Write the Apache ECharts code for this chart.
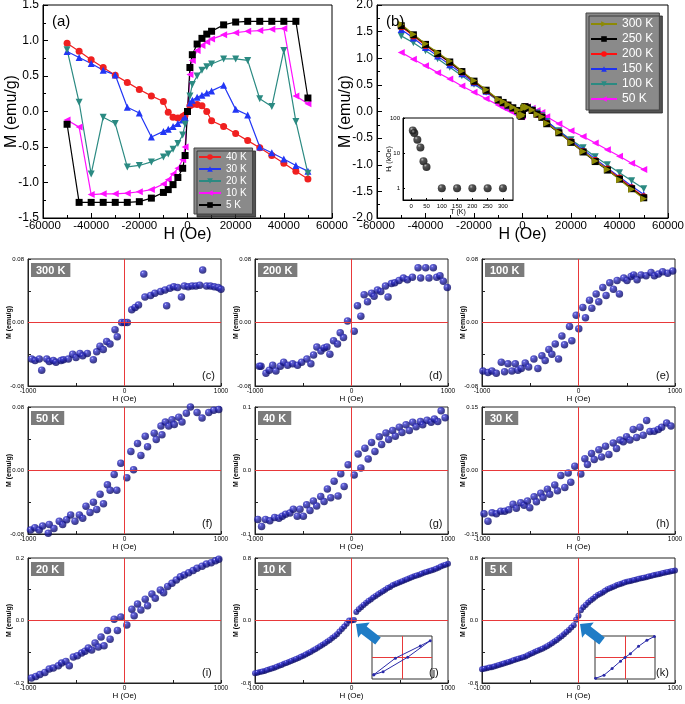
<!DOCTYPE html>
<html><head><meta charset="utf-8">
<script src="https://cdn.jsdelivr.net/npm/echarts@6/dist/echarts.min.js"></script>
<style>html,body{margin:0;padding:0;background:#fff}#c{width:685px;height:704px}</style>
</head><body><div id="c"></div>
<script>
const FONT = '"Liberation Sans", Arial, sans-serif';

// ---------- Panel (a) ----------
const aH = [-50000,-45000,-40000,-35000,-30000,-25000,-20000,-15000,-10000,-8000,-6000,-4000,-2000,-1000,0,1000,2000,4000,6000,8000,10000,15000,20000,25000,30000,35000,40000,45000,50000];
const a40K = [0.96,0.85,0.73,0.62,0.51,0.41,0.31,0.22,0.14,-0.01,-0.08,-0.09,-0.07,-0.05,0.0,0.08,0.10,0.10,0.08,0.0,-0.13,-0.21,-0.31,-0.41,-0.51,-0.62,-0.73,-0.84,-0.95];
const a30K = [0.845,0.76,0.675,0.58,0.515,0.06,-0.02,-0.36,-0.28,-0.25,-0.21,-0.17,-0.12,-0.08,0.0,0.12,0.16,0.2,0.23,0.26,0.29,0.37,0.03,-0.05,-0.5,-0.58,-0.67,-0.76,-0.84];
const a20K = [0.87,0.13,-0.88,-0.08,-0.17,-0.78,-0.76,-0.71,-0.64,-0.6,-0.53,-0.45,-0.33,-0.18,0.0,0.22,0.38,0.5,0.58,0.63,0.67,0.74,0.74,0.72,0.18,0.07,0.86,-0.14,-0.87];
const a10K = [-0.12,-0.22,-1.17,-1.16,-1.16,-1.15,-1.13,-1.10,-1.02,-0.96,-0.88,-0.80,-0.68,-0.50,0.0,0.52,0.72,0.86,0.93,0.98,1.02,1.08,1.11,1.13,1.14,1.16,1.17,0.22,0.11];
const a5K = [-0.18,-1.28,-1.28,-1.28,-1.28,-1.28,-1.27,-1.22,-1.14,-1.10,-1.03,-0.93,-0.80,-0.62,0.0,0.62,0.80,0.95,1.03,1.09,1.13,1.22,1.26,1.27,1.27,1.27,1.27,1.27,0.19];

// ---------- Panel (b) ----------
const bH = [-50000,-45000,-40000,-35000,-30000,-25000,-20000,-15000,-10000,-8000,-6000,-4000,-2000,-1000,-500,0,500,1000,2000,4000,6000,8000,10000,15000,20000,25000,30000,35000,40000,45000,50000];
const b300K = [1.64,1.45,1.27,1.11,0.95,0.76,0.58,0.41,0.23,0.19,0.13,0.08,0.03,-0.06,-0.09,-0.06,0.06,0.09,0.08,0.03,-0.05,-0.10,-0.22,-0.39,-0.58,-0.75,-0.93,-1.09,-1.28,-1.46,-1.64];
const b250K = [1.61,1.44,1.26,1.09,0.93,0.75,0.57,0.40,0.22,0.17,0.12,0.07,0.02,-0.06,-0.09,-0.05,0.06,0.09,0.07,0.02,-0.05,-0.11,-0.23,-0.40,-0.58,-0.76,-0.94,-1.10,-1.27,-1.45,-1.62];
const b200K = [1.59,1.42,1.24,1.08,0.92,0.74,0.56,0.39,0.21,0.16,0.12,0.06,0.02,-0.06,-0.09,-0.05,0.06,0.09,0.07,0.02,-0.05,-0.10,-0.22,-0.39,-0.57,-0.75,-0.92,-1.08,-1.25,-1.43,-1.60];
const b150K = [1.54,1.38,1.20,1.04,0.88,0.71,0.54,0.38,0.21,0.16,0.11,0.06,0.01,-0.07,-0.09,-0.05,0.06,0.09,0.08,0.04,-0.02,-0.07,-0.18,-0.37,-0.55,-0.72,-0.89,-1.06,-1.23,-1.40,-1.56];
const b100K = [1.42,1.29,1.14,0.99,0.83,0.67,0.51,0.36,0.20,0.15,0.10,0.05,0.01,-0.07,-0.09,-0.05,0.06,0.09,0.07,0.03,-0.03,-0.08,-0.19,-0.36,-0.53,-0.68,-0.85,-1.00,-1.15,-1.30,-1.45];
const b50K = [1.11,0.98,0.86,0.73,0.61,0.48,0.36,0.24,0.12,0.07,0.03,-0.02,-0.06,-0.09,-0.10,-0.08,0.06,0.10,0.09,0.06,0.02,-0.02,-0.10,-0.23,-0.36,-0.47,-0.59,-0.72,-0.84,-0.97,-1.09];

// ---------- Inset of (b) ----------
const insetT = [5,10,20,30,40,50,100,150,200,250,300];
const insetHi = [46,39,25,15,6,4.1,1,1,1,1,1];
const insetTTicks = [0,50,100,150,200,250,300];
const insetHiTicks = [1,10,100];

// ---------- Small panels ----------
const c_H = [-962,-927,-883,-858,-806,-779,-738,-710,-658,-634,-582,-537,-503,-461,-433,-385,-323,-288,-254,-220,-185,-150,-98,-75,-29,0,29,75,110,145,200,212,270,315,374,420,437,470,510,550,590,620,660,700,740,780,810,850,890,930,970,1000];
const c_M = [-0.046,-0.048,-0.046,-0.060,-0.046,-0.049,-0.048,-0.050,-0.048,-0.047,-0.046,-0.040,-0.044,-0.039,-0.042,-0.039,-0.047,-0.037,-0.030,-0.034,-0.024,-0.027,-0.009,-0.018,0.000,0.000,0.000,0.016,0.019,0.022,0.061,0.032,0.034,0.037,0.039,0.041,0.021,0.043,0.045,0.044,0.032,0.046,0.045,0.046,0.046,0.047,0.066,0.046,0.046,0.045,0.044,0.042];
const d_H = [-955,-938,-886,-852,-817,-783,-738,-703,-662,-610,-559,-517,-462,-421,-393,-359,-317,-283,-255,-224,-186,-145,-117,-83,-41,28,62,97,131,166,207,234,269,303,352,379,414,448,493,538,579,631,690,717,769,803,848,883,917,952,993];
const d_M = [-0.055,-0.055,-0.064,-0.060,-0.054,-0.061,-0.055,-0.050,-0.054,-0.052,-0.054,-0.050,-0.046,-0.052,-0.041,-0.031,-0.036,-0.032,-0.031,-0.040,-0.023,-0.027,-0.013,-0.019,0.002,-0.011,0.021,0.008,0.035,0.026,0.037,0.033,0.041,0.039,0.046,0.032,0.049,0.050,0.053,0.056,0.054,0.057,0.069,0.056,0.069,0.056,0.069,0.057,0.059,0.052,0.044];
const e_H = [-990,-938,-897,-852,-800,-766,-731,-690,-655,-628,-593,-552,-517,-462,-421,-379,-345,-307,-276,-241,-207,-172,-145,-93,-69,-24,3,45,72,114,138,183,210,252,286,324,362,400,424,469,503,545,572,607,648,700,752,786,828,872,924,976];
const e_M = [-0.061,-0.063,-0.061,-0.064,-0.050,-0.062,-0.052,-0.061,-0.052,-0.060,-0.058,-0.051,-0.056,-0.046,-0.058,-0.042,-0.048,-0.034,-0.040,-0.027,-0.046,-0.017,-0.028,-0.005,-0.023,0.009,-0.008,0.019,0.006,0.028,0.018,0.036,0.026,0.044,0.034,0.050,0.042,0.053,0.036,0.056,0.053,0.058,0.060,0.054,0.060,0.059,0.063,0.059,0.061,0.064,0.062,0.065];
const f_H = [-974,-929,-884,-849,-790,-780,-731,-676,-641,-600,-558,-513,-468,-433,-399,-357,-322,-288,-253,-218,-177,-149,-107,-80,-38,24,94,66,135,170,215,239,308,329,378,388,423,458,492,516,562,596,641,683,752,804,873,925,977];
const f_M = [-0.075,-0.072,-0.075,-0.070,-0.079,-0.068,-0.073,-0.064,-0.068,-0.062,-0.056,-0.064,-0.056,-0.060,-0.045,-0.053,-0.040,-0.049,-0.030,-0.042,-0.018,-0.025,-0.005,-0.025,0.009,-0.009,0.001,0.024,0.034,0.019,0.043,0.030,0.047,0.039,0.056,0.045,0.061,0.056,0.064,0.058,0.067,0.061,0.072,0.080,0.073,0.066,0.073,0.076,0.077];
const g_H = [-970,-932,-891,-846,-797,-752,-717,-683,-638,-603,-562,-534,-499,-465,-430,-395,-361,-319,-284,-250,-215,-180,-139,-111,-76,-35,28,69,97,139,173,208,243,288,312,357,385,426,454,495,523,565,599,634,669,714,738,783,825,859,894,929,970];
const g_M = [-0.077,-0.088,-0.077,-0.079,-0.074,-0.075,-0.072,-0.069,-0.067,-0.061,-0.072,-0.061,-0.072,-0.054,-0.063,-0.048,-0.056,-0.041,-0.049,-0.029,-0.043,-0.017,-0.040,-0.005,-0.025,0.009,-0.007,0.026,0.004,0.035,0.018,0.044,0.030,0.053,0.041,0.059,0.049,0.063,0.054,0.068,0.060,0.072,0.063,0.076,0.069,0.077,0.072,0.079,0.076,0.081,0.077,0.094,0.083];
const h_H = [-979,-938,-896,-851,-806,-765,-723,-678,-644,-599,-564,-529,-505,-460,-436,-391,-367,-322,-298,-246,-218,-183,-142,-107,-80,-38,24,66,93,135,163,211,239,280,315,360,394,429,464,498,533,567,602,637,671,706,740,785,827,862,913,958];
const h_M = [-0.102,-0.120,-0.100,-0.102,-0.096,-0.096,-0.093,-0.080,-0.089,-0.076,-0.082,-0.072,-0.088,-0.062,-0.074,-0.054,-0.064,-0.044,-0.056,-0.034,-0.048,-0.012,-0.040,-0.006,-0.028,0.010,-0.008,0.028,0.014,0.040,0.026,0.049,0.032,0.057,0.038,0.065,0.052,0.072,0.068,0.080,0.072,0.097,0.078,0.102,0.083,0.118,0.092,0.093,0.097,0.102,0.112,0.105];
const i_H = [-964,-919,-877,-825,-780,-738,-686,-652,-607,-572,-530,-489,-444,-409,-375,-340,-305,-271,-243,-212,-177,-149,-107,-73,-38,24,76,100,135,170,215,239,284,319,371,406,447,492,537,579,620,665,711,752,804,849,898,943,977];
const i_M = [-0.184,-0.179,-0.173,-0.166,-0.155,-0.152,-0.145,-0.136,-0.131,-0.145,-0.117,-0.113,-0.104,-0.098,-0.088,-0.094,-0.072,-0.085,-0.053,-0.081,-0.032,-0.060,0.004,-0.032,0.011,-0.014,0.036,0.015,0.053,0.034,0.068,0.047,0.085,0.071,0.098,0.089,0.109,0.119,0.130,0.140,0.146,0.153,0.160,0.167,0.174,0.181,0.185,0.191,0.196];
const j_H_a = [-1000,-950,-900,-850,-800,-750,-700,-650,-600,-550,-500,-450,-400,-350,-300,-250,-200,-150,-100,-50,0,50,100,150,200,250,300,350,400,450,500,550,600,650,700,750,800,850,900,950,1000];
const j_M_a = [-0.675,-0.66,-0.645,-0.625,-0.605,-0.58,-0.555,-0.53,-0.505,-0.48,-0.45,-0.42,-0.385,-0.35,-0.31,-0.27,-0.225,-0.175,-0.11,-0.04,0.0,0.11,0.17,0.225,0.27,0.315,0.355,0.395,0.43,0.465,0.49,0.515,0.54,0.565,0.585,0.61,0.63,0.65,0.675,0.705,0.725];
const j_H_b = [-975,-925,-875,-825,-775,-725,-675,-625,-575,-525,-475,-425,-375,-325,-275,-225,-175,-125,-75,-25,25,75,125,175,225,275,325,375,425,475,525,575,625,675,725,775,825,875,925,975];
const j_M_b = [-0.668,-0.652,-0.635,-0.615,-0.592,-0.568,-0.543,-0.518,-0.492,-0.465,-0.435,-0.403,-0.368,-0.33,-0.29,-0.248,-0.2,-0.14,-0.077,0.0,0.005,0.145,0.2,0.25,0.295,0.335,0.375,0.415,0.45,0.478,0.503,0.528,0.553,0.575,0.598,0.62,0.64,0.663,0.69,0.715];
const k_H_a = [-1000,-950,-900,-850,-800,-750,-700,-650,-600,-550,-500,-450,-400,-350,-300,-250,-200,-150,-100,-50,0,50,100,150,200,250,300,350,400,450,500,550,600,650,700,750,800,850,900,950,1000];
const k_M_a = [-0.625,-0.61,-0.597,-0.58,-0.56,-0.54,-0.52,-0.5,-0.48,-0.46,-0.43,-0.40,-0.375,-0.345,-0.31,-0.27,-0.225,-0.175,-0.12,-0.06,0.06,0.17,0.23,0.28,0.325,0.36,0.40,0.425,0.455,0.475,0.495,0.51,0.525,0.54,0.555,0.57,0.585,0.60,0.615,0.628,0.64];
const k_H_b = [-975,-925,-875,-825,-775,-725,-675,-625,-575,-525,-475,-425,-375,-325,-275,-225,-175,-125,-75,-25,25,75,125,175,225,275,325,375,425,475,525,575,625,675,725,775,825,875,925,975];
const k_M_b = [-0.618,-0.603,-0.588,-0.57,-0.55,-0.53,-0.51,-0.49,-0.47,-0.445,-0.415,-0.388,-0.36,-0.328,-0.29,-0.248,-0.2,-0.148,-0.09,0.01,0.13,0.2,0.255,0.303,0.343,0.38,0.413,0.44,0.465,0.485,0.503,0.518,0.533,0.548,0.563,0.578,0.593,0.608,0.622,0.634];
// insets of (j) and (k) (normalised units)
const jIns_X = [-0.94,-0.63,0.19,0.94,0.61,-0.22,-0.94];
const jIns_Y = [-0.80,-0.66,0.015,0.78,0.54,-0.03,-0.80];
const kIns_X = [-0.98,-0.70,-0.43,-0.15,0,0.18,0.45,0.73,0.98];
const kIns_Y = [-0.97,-0.82,-0.51,-0.17,0,0.18,0.52,0.80,0.98];

// ---------- build option ----------
const zip = (a, b) => a.map((v, i) => [v, b[i]]);
const grids = [], xAxes = [], yAxes = [], series = [], titles = [], graphics = [];
function addGrid(g, xa, ya) {
  grids.push(Object.assign({show: true, borderColor: '#000', borderWidth: 1, backgroundColor: 'transparent', outerBoundsMode: 'none'}, g));
  const gi = grids.length - 1;
  xAxes.push(Object.assign({gridIndex: gi, nameMoveOverlap: false}, xa));
  yAxes.push(Object.assign({gridIndex: gi, nameMoveOverlap: false}, ya));
  return gi;
}
const blk = {color: '#000', width: 1};

function mainX() {
  return {type: 'value', min: -60000, max: 60000, interval: 20000,
    axisLine: {show: true, onZero: false, lineStyle: blk},
    axisTick: {show: true, inside: true, length: 5, lineStyle: blk},
    minorTick: {show: true, splitNumber: 2, length: 3, lineStyle: blk},
    splitLine: {show: false},
    axisLabel: {color: '#000', fontSize: 11.5, fontFamily: FONT, margin: 2, showMinLabel: true, showMaxLabel: true, formatter: v => String(v)},
    name: 'H (Oe)', nameLocation: 'middle', nameGap: 9,
    nameTextStyle: {fontSize: 16, color: '#000', fontFamily: FONT}};
}
function mainY(lim) {
  return {type: 'value', min: -lim, max: lim, interval: 0.5,
    axisLine: {show: true, onZero: false, lineStyle: blk},
    axisTick: {show: true, inside: true, length: 5, lineStyle: blk},
    minorTick: {show: true, splitNumber: 2, length: 3, lineStyle: blk},
    splitLine: {show: false},
    axisLabel: {color: '#000', fontSize: 12, fontFamily: FONT, margin: 4, formatter: v => v.toFixed(1), showMinLabel: true, showMaxLabel: true},
    name: 'M (emu/g)', nameLocation: 'middle', nameGap: 23,
    nameTextStyle: {fontSize: 16, color: '#000', fontFamily: FONT}};
}

// Panel (a)
const ga = addGrid({left: 43, top: 5, width: 289, height: 213}, mainX(), mainY(1.5));
const aSeries = [
  ['40 K', a40K, '#f02020', 'circle', 0],
  ['30 K', a30K, '#2236f5', 'triangle', 0],
  ['20 K', a20K, '#2b8a82', 'triangle', 180],
  ['10 K', a10K, '#ff10ff', 'triangle', 90],
  ['5 K', a5K, '#000000', 'rect', 0]
];
aSeries.forEach(([n, d, c, s, r]) => series.push({
  name: n, type: 'line', xAxisIndex: ga, yAxisIndex: ga, data: zip(aH, d),
  symbol: s, symbolRotate: r, symbolSize: 7, showSymbol: true,
  lineStyle: {color: c, width: 1.2}, itemStyle: {color: c}, z: 3
}));
titles.push({text: '(a)', left: 47, top: 9, textStyle: {fontSize: 15, fontWeight: 'normal', color: '#000', fontFamily: FONT}});

// Panel (b)
const gb = addGrid({left: 377, top: 5, width: 291, height: 213}, mainX(), mainY(2));
const bSeries = [
  ['50 K', b50K, '#ff10ff', 'triangle', 90],
  ['100 K', b100K, '#2b8a82', 'triangle', 180],
  ['150 K', b150K, '#1e32f0', 'triangle', 0],
  ['200 K', b200K, '#ff1010', 'circle', 0],
  ['250 K', b250K, '#000000', 'rect', 0],
  ['300 K', b300K, '#8d8a05', 'triangle', -90]
];
bSeries.forEach(([n, d, c, s, r]) => series.push({
  name: n, type: 'line', xAxisIndex: gb, yAxisIndex: gb, data: zip(bH, d),
  symbol: s, symbolRotate: r, symbolSize: 7, showSymbol: true,
  lineStyle: {color: c, width: 1.2}, itemStyle: {color: c}, z: 3
}));
titles.push({text: '(b)', left: 381, top: 9, textStyle: {fontSize: 15, fontWeight: 'normal', color: '#000', fontFamily: FONT}});

// Inset of (b)
const gIns = addGrid({left: 403, top: 118, width: 110, height: 82, backgroundColor: '#fff', z: 5},
  {type: 'value', min: -27, max: 333,
    axisLine: {show: true, onZero: false, lineStyle: blk},
    axisTick: {show: true, inside: true, length: 2, lineStyle: blk, customValues: insetTTicks},
    splitLine: {show: false},
    axisLabel: {color: '#000', fontSize: 6, fontFamily: FONT, margin: 3, customValues: insetTTicks},
    name: 'T (K)', nameLocation: 'middle', nameGap: 9, nameTextStyle: {fontSize: 7, color: '#000', fontFamily: FONT}, z: 6},
  {type: 'log', logBase: 10, min: 0.46, max: 105,
    axisLine: {show: true, onZero: false, lineStyle: blk},
    axisTick: {show: true, inside: true, length: 2, lineStyle: blk, customValues: insetHiTicks},
    splitLine: {show: false},
    axisLabel: {color: '#000', fontSize: 6, fontFamily: FONT, margin: 3, customValues: insetHiTicks},
    name: '{m|H}{s|i}{m| (kOe)}', nameLocation: 'middle', nameGap: 10,
    nameTextStyle: {color: '#000', fontFamily: FONT, rich: {m: {fontSize: 7, fontFamily: FONT}, s: {fontSize: 5, verticalAlign: 'bottom', fontFamily: FONT}}}, z: 6});
series.push({type: 'scatter', xAxisIndex: gIns, yAxisIndex: gIns, data: zip(insetT, insetHi), symbolSize: 8, z: 7,
  itemStyle: {color: {type: 'radial', x: 0.35, y: 0.3, r: 0.7, colorStops: [{offset: 0, color: '#b0b0b0'}, {offset: 0.3, color: '#2a2a2a'}, {offset: 1, color: '#000'}]}}});

// small panels
const colX = [28, 255, 482], colW = 193;
const rowY = [259, 407, 558], rowH = [127, 127, 125];
const smallPanels = [
  {letter: '(c)', temp: '300 K', H: c_H, M: c_M, lim: 0.08, dec: 2, col: 0, row: 0},
  {letter: '(d)', temp: '200 K', H: d_H, M: d_M, lim: 0.08, dec: 2, col: 1, row: 0},
  {letter: '(e)', temp: '100 K', H: e_H, M: e_M, lim: 0.08, dec: 2, col: 2, row: 0},
  {letter: '(f)', temp: '50 K', H: f_H, M: f_M, lim: 0.08, dec: 2, col: 0, row: 1},
  {letter: '(g)', temp: '40 K', H: g_H, M: g_M, lim: 0.1, dec: 1, col: 1, row: 1},
  {letter: '(h)', temp: '30 K', H: h_H, M: h_M, lim: 0.15, dec: 2, col: 2, row: 1},
  {letter: '(i)', temp: '20 K', H: i_H, M: i_M, lim: 0.2, dec: 1, col: 0, row: 2},
  {letter: '(j)', temp: '10 K', H: j_H_a.concat(j_H_b), M: j_M_a.concat(j_M_b), lim: 0.8, dec: 1, col: 1, row: 2, small: true},
  {letter: '(k)', temp: '5 K', H: k_H_a.concat(k_H_b), M: k_M_a.concat(k_M_b), lim: 0.8, dec: 1, col: 2, row: 2, small: true}
];
const sphere = {type: 'radial', x: 0.35, y: 0.3, r: 0.75, colorStops: [
  {offset: 0, color: '#c4c4ff'}, {offset: 0.18, color: '#3c3cd2'}, {offset: 0.6, color: '#16168f'}, {offset: 1, color: '#0a0a5c'}]};
const redLine = {silent: true, symbol: 'none', label: {show: false}, lineStyle: {color: '#e8393a', width: 1, type: 'solid'}, data: [{xAxis: 0}, {yAxis: 0}]};

smallPanels.forEach(p => {
  const L = colX[p.col], T = rowY[p.row], Hh = rowH[p.row];
  const gi = addGrid({left: L, top: T, width: colW, height: Hh, borderColor: '#222'},
    {type: 'value', min: -1000, max: 1000, interval: 500,
      axisLine: {show: true, onZero: false, lineStyle: {color: '#222', width: 1}},
      axisTick: {show: true, inside: true, length: 3, lineStyle: {color: '#222'}},
      splitLine: {show: false},
      axisLabel: {color: '#000', fontSize: 6.5, fontFamily: FONT, margin: 2, showMinLabel: true, showMaxLabel: true,
        formatter: v => (Math.abs(v) === 1000 || v === 0) ? String(v) : ''},
      name: 'H (Oe)', nameLocation: 'middle', nameGap: 9, nameTextStyle: {fontSize: 8, color: '#000', fontFamily: FONT}},
    {type: 'value', min: -p.lim, max: p.lim, interval: p.lim / 2,
      axisLine: {show: true, onZero: false, lineStyle: {color: '#222', width: 1}},
      axisTick: {show: true, inside: true, length: 3, lineStyle: {color: '#222'}},
      splitLine: {show: false},
      axisLabel: {color: '#000', fontSize: 6, fontFamily: FONT, margin: 4, showMinLabel: true, showMaxLabel: true,
        formatter: v => Math.abs(v) < 1e-9 ? (0).toFixed(p.dec) : (Math.abs(Math.abs(v) - p.lim) < 1e-9 ? v.toFixed(p.dec) : '')},
      name: 'M (emu/g)', nameLocation: 'middle', nameGap: 15, nameTextStyle: {fontSize: 7, fontWeight: 'bold', color: '#000', fontFamily: FONT}});
  series.push({type: 'scatter', xAxisIndex: gi, yAxisIndex: gi, data: zip(p.H, p.M),
    symbolSize: p.small ? 6 : 7.5, itemStyle: {color: sphere}, z: 3, markLine: redLine});
  titles.push({text: p.temp, left: L + 3, top: T + 4, backgroundColor: '#7b7b7b', padding: [2, 5, 1, 5],
    textStyle: {color: '#fff', fontSize: 11, fontWeight: 'bold', fontFamily: FONT}});
  titles.push({text: p.letter, left: L + colW - 19, top: T + Hh - 16, padding: 0,
    textStyle: {color: '#111', fontSize: 11, fontWeight: 'normal', fontFamily: FONT}});
});

// insets of (j) and (k)
function addInset(left, top, X, Y) {
  const gi = addGrid({left: left, top: top, width: 60, height: 43, backgroundColor: '#fff', borderColor: '#333', z: 5},
    {type: 'value', min: -1, max: 1, axisLine: {show: false}, axisTick: {show: false}, axisLabel: {show: false}, splitLine: {show: false}},
    {type: 'value', min: -1, max: 1, axisLine: {show: false}, axisTick: {show: false}, axisLabel: {show: false}, splitLine: {show: false}});
  series.push({type: 'line', xAxisIndex: gi, yAxisIndex: gi, data: zip(X, Y), z: 7,
    symbol: 'circle', symbolSize: 3, lineStyle: {color: '#2a2aa8', width: 1}, itemStyle: {color: '#2a2aa8'},
    markLine: redLine});
}
addInset(372, 636, jIns_X, jIns_Y);
addInset(595, 636, kIns_X, kIns_Y);

// arrows
function arrowPts(tip, tail, bodyW, headW, headL) {
  const dx = tail[0] - tip[0], dy = tail[1] - tip[1], L = Math.hypot(dx, dy);
  const ux = dx / L, uy = dy / L, px = -uy, py = ux;
  const hb = [tip[0] + ux * headL, tip[1] + uy * headL];
  return [tip, [hb[0] + px * headW / 2, hb[1] + py * headW / 2], [hb[0] + px * bodyW / 2, hb[1] + py * bodyW / 2],
    [tail[0] + px * bodyW / 2, tail[1] + py * bodyW / 2], [tail[0] - px * bodyW / 2, tail[1] - py * bodyW / 2],
    [hb[0] - px * bodyW / 2, hb[1] - py * bodyW / 2], [hb[0] - px * headW / 2, hb[1] - py * headW / 2]];
}
graphics.push({type: 'polygon', z: 100, shape: {points: arrowPts([356, 624], [378, 641], 9, 19, 10)}, style: {fill: '#1f7cc6'}});
graphics.push({type: 'polygon', z: 100, shape: {points: arrowPts([580, 624], [602, 641], 9, 19, 10)}, style: {fill: '#1f7cc6'}});

const legendBase = {orient: 'vertical', selectedMode: false, backgroundColor: '#8a8a8a', borderColor: '#444', borderWidth: 1,
  shadowColor: 'rgba(40,40,40,0.8)', shadowOffsetX: 3, shadowOffsetY: 3, shadowBlur: 0, align: 'left'};
const legends = [
  Object.assign({}, legendBase, {data: ['40 K', '30 K', '20 K', '10 K', '5 K'], left: 194, top: 148, padding: [4, 6, 4, 4],
    itemGap: 2, itemWidth: 22, itemHeight: 7, textStyle: {color: '#fff', fontSize: 10, fontFamily: FONT}}),
  Object.assign({}, legendBase, {data: ['300 K', '250 K', '200 K', '150 K', '100 K', '50 K'], left: 586, top: 13, padding: [5, 6, 5, 4],
    itemGap: 3, itemWidth: 26, itemHeight: 7, textStyle: {color: '#fff', fontSize: 12, fontFamily: FONT}})
];

const chart = echarts.init(document.getElementById('c'), null, {renderer: 'canvas'});
chart.setOption({
  animation: false, backgroundColor: '#fff',
  textStyle: {fontFamily: FONT},
  title: titles, legend: legends, grid: grids, xAxis: xAxes, yAxis: yAxes, series: series, graphic: graphics
});
</script></body></html>
